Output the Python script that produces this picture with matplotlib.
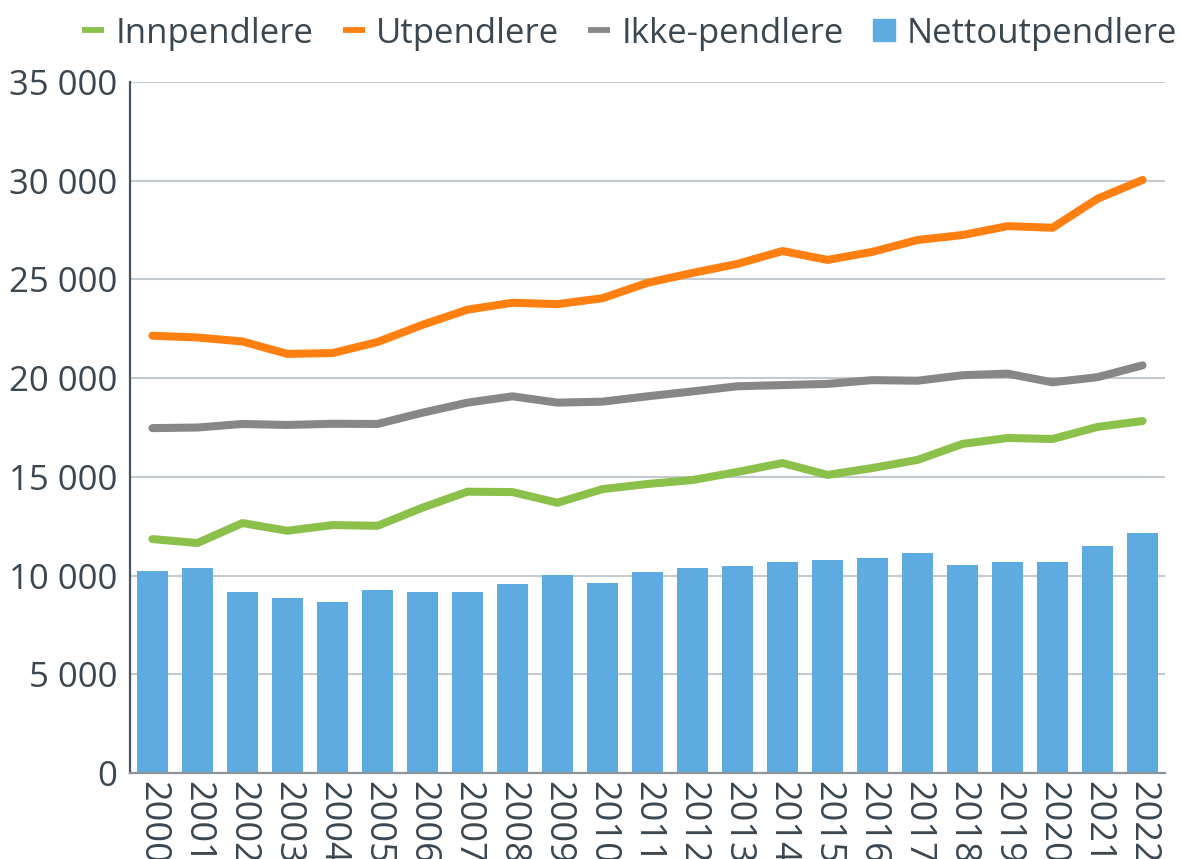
import matplotlib
matplotlib.use("Agg")
import matplotlib.pyplot as plt
from matplotlib.ticker import FuncFormatter, MultipleLocator
from matplotlib.lines import Line2D

years = [str(y) for y in range(2000, 2023)]
innpendlere = [11850, 11650, 12660, 12270, 12560, 12520, 13440, 14250, 14230, 13690, 14380,
               14640, 14840, 15250, 15700, 15100, 15450, 15860, 16670, 16970, 16920, 17530, 17830]
utpendlere = [22150, 22060, 21860, 21230, 21270, 21830, 22700, 23470, 23820, 23750, 24050,
              24830, 25330, 25790, 26440, 25990, 26400, 27000, 27250, 27700, 27620, 29090, 30040]
ikke_pendlere = [17470, 17500, 17680, 17630, 17690, 17680, 18250, 18760, 19080, 18760, 18810,
                 19080, 19330, 19590, 19650, 19710, 19900, 19870, 20150, 20230, 19790, 20050, 20650]
nettoutpendlere = [10250, 10370, 9150, 8880, 8650, 9270, 9190, 9190, 9570, 10030, 9620,
                   10170, 10370, 10500, 10670, 10770, 10890, 11130, 10550, 10670, 10670, 11480, 12170]

plt.rcParams['font.family'] = ['Open Sans', 'DejaVu Sans']
text_color = '#3a4750'
c_green, c_orange, c_gray, c_blue = '#8bc14a', '#ff7f11', '#878787', '#5dabe0'

fig = plt.figure(figsize=(11.81, 8.59), dpi=100)
ax = fig.add_axes([0.110, 0.1001, 0.8765, 0.8044])

x = list(range(len(years)))
ax.bar(x, nettoutpendlere, width=0.69, color=c_blue, zorder=2)
ax.plot(x, innpendlere, color=c_green, lw=5.8, zorder=3, solid_capstyle='round', solid_joinstyle='round')
ax.plot(x, utpendlere, color=c_orange, lw=5.8, zorder=3, solid_capstyle='round', solid_joinstyle='round')
ax.plot(x, ikke_pendlere, color=c_gray, lw=5.8, zorder=3, solid_capstyle='round', solid_joinstyle='round')

ax.set_xlim(-0.5, len(years) - 0.5)
ax.set_ylim(0, 35000)
ax.yaxis.set_major_locator(MultipleLocator(5000))
ax.yaxis.set_major_formatter(FuncFormatter(lambda v, p: f"{int(v):,}".replace(",", " ")))
ax.grid(axis='y', color='#c3cacf', lw=1.5, zorder=0)
ax.set_axisbelow(True)

ax.set_xticks(x)
ax.set_xticklabels(years, rotation=270, fontsize=26, color=text_color)
ax.tick_params(axis='x', length=0, pad=6)
ax.tick_params(axis='y', labelsize=25, labelcolor=text_color, length=0, pad=9)

for s in ['top', 'right']:
    ax.spines[s].set_visible(False)
ax.spines['left'].set_color('#4a5560')
ax.spines['left'].set_linewidth(1.6)
ax.spines['bottom'].set_color('#8a949a')
ax.spines['bottom'].set_linewidth(1.6)

handles = [
    Line2D([], [], color=c_green, lw=4.2, solid_capstyle='butt'),
    Line2D([], [], color=c_orange, lw=4.2, solid_capstyle='butt'),
    Line2D([], [], color=c_gray, lw=4.2, solid_capstyle='butt'),
    Line2D([], [], color=c_blue, lw=0, marker='s', markersize=16.5),
]
labels = ['Innpendlere', 'Utpendlere', 'Ikke-pendlere', 'Nettoutpendlere']
leg = fig.legend(handles, labels,
                 loc='upper right', bbox_to_anchor=(1.020, 1.013), ncol=4, frameon=False,
                 fontsize=25, handlelength=0.63, handletextpad=0.32, columnspacing=0.85,
                 borderpad=0.3)
for t in leg.get_texts():
    t.set_color(text_color)

fig.savefig('out.png', dpi=100)
